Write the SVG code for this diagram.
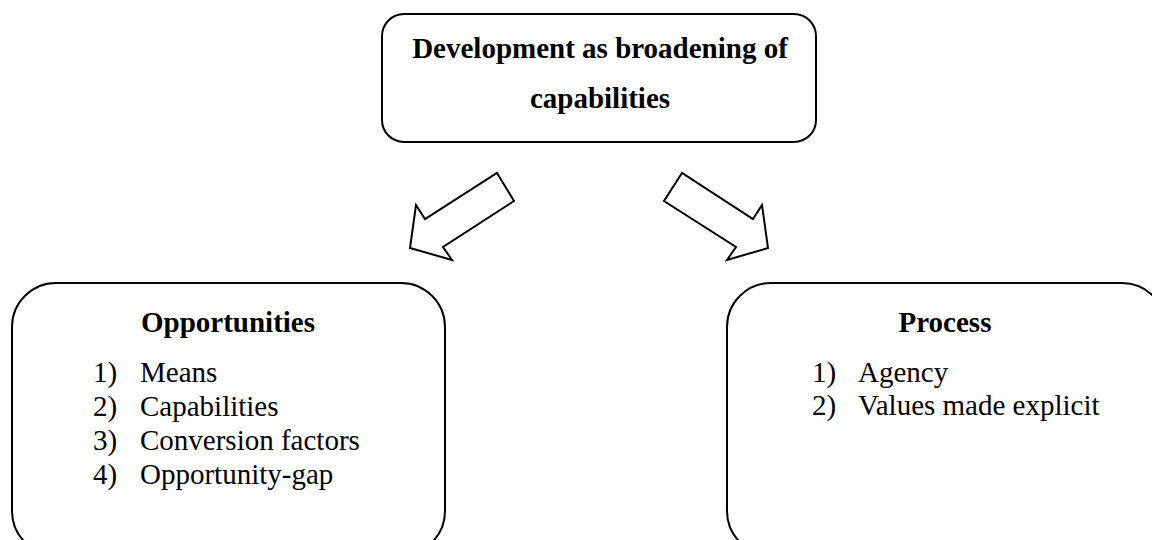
<svg xmlns="http://www.w3.org/2000/svg" width="1152" height="540" viewBox="0 0 1152 540">
<style>
.box{fill:#fff;stroke:#000;stroke-width:2}
.arrow{fill:#fff;stroke:#000;stroke-width:2;stroke-linejoin:miter}
text{font-family:"Liberation Serif","Times New Roman",serif;font-size:29px;fill:#000}
.b{font-weight:bold}
</style>
<rect width="1152" height="540" fill="#fff"/>
<g id="top">
<rect class="box" x="382" y="14" width="434" height="128" rx="22" ry="22"/>
<text class="b" x="600" y="58" text-anchor="middle">Development as broadening of</text>
<text class="b" x="600" y="108" text-anchor="middle">capabilities</text>
</g>
<g id="opportunities">
<rect class="box" x="12" y="283" width="433" height="272" rx="44" ry="44"/>
<text class="b" x="228" y="332" text-anchor="middle">Opportunities</text>
<text x="93" y="382">1)</text><text x="140" y="382">Means</text>
<text x="93" y="416">2)</text><text x="140" y="416">Capabilities</text>
<text x="93" y="450">3)</text><text x="140" y="450">Conversion factors</text>
<text x="93" y="484">4)</text><text x="140" y="484">Opportunity-gap</text>
</g>
<g id="process">
<rect class="box" x="727" y="283" width="439" height="272" rx="44" ry="44"/>
<text class="b" x="945" y="332" text-anchor="middle">Process</text>
<text x="812" y="382">1)</text><text x="858" y="382">Agency</text>
<text x="812" y="415">2)</text><text x="858" y="415">Values made explicit</text>
</g>
<g id="connectors">
<polygon class="arrow" points="497,173 514,201 443,247 452,260 410,248 416,205 425,219"/>
<polygon class="arrow" points="682,173 664,201 736,247 727,260 768,248 762,205 753,219"/>
</g>
</svg>
